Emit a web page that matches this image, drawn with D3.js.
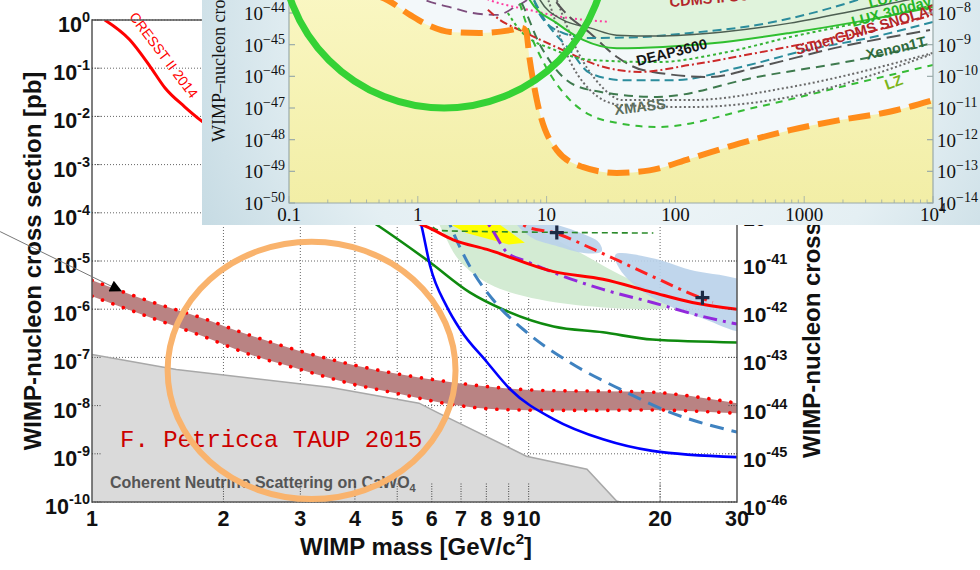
<!DOCTYPE html>
<html lang="en">
<head>
<meta charset="utf-8" />
<title>WIMP-nucleon cross section limits</title>
<script src="https://cdn.jsdelivr.net/npm/d3@7"></script>
<style>
  body { margin: 0; background: #fff; }
  svg { display: block; }
  .sans { font-family: "Liberation Sans", Arial, Helvetica, sans-serif; }
  .bold { font-family: "Liberation Sans", Arial, Helvetica, sans-serif; font-weight: bold; }
  .serif { font-family: "Liberation Serif", "Times New Roman", serif; }
  .mono { font-family: "Liberation Mono", "Courier New", monospace; }
</style>
</head>
<body>
<script>
// ---------------- main plot: mass [GeV/c^2], cross section as log10(sigma / pb)
const massTicks = [1, 2, 3, 4, 5, 6, 7, 8, 9, 10, 20, 30];
const pbExps = [0, -1, -2, -3, -4, -5, -6, -7, -8, -9, -10];
const cm2Exps = [-36, -37, -38, -39, -40, -41, -42, -43, -44, -45, -46];

const cresst = [[1.07, 0], [1.22, -0.41], [1.36, -0.97], [1.47, -1.41], [1.63, -1.80], [1.79, -2.11],
  [3.0, -3.3], [4.5, -3.95], [5.85, -4.29], [6.72, -4.56], [8.03, -4.76], [11.4, -5.22],
  [14.8, -5.38], [19.2, -5.65], [23.7, -5.86], [30, -6.0]];
const blueSolid = [[5.2, -3.0], [5.69, -4.29], [5.95, -5.11], [6.49, -5.94], [6.97, -6.42], [8.03, -7.10],
  [9.07, -7.66], [11.4, -8.28], [14.8, -8.70], [19.2, -8.94], [30, -9.07]];
const greenSolid = [[3.5, -3.6], [4.56, -4.29], [5.95, -5.03], [7.33, -5.65], [8.71, -6.00], [11.4, -6.36],
  [14.8, -6.48], [19.2, -6.63], [30, -6.69]];
const steelDashed = [[6.2, -3.6], [6.72, -4.41], [7.33, -5.11], [8.28, -5.80], [9.9, -6.48], [12.4, -7.10],
  [16.2, -7.66], [21.1, -8.14], [30, -8.55]];
const greenDashed = [[5.6, -4.0], [6.3, -4.37], [10, -4.40], [19.3, -4.42]];
const redDashDot = [[9.0, -4.0], [9.9, -4.29], [11.4, -4.41], [14.1, -4.76], [16.2, -5.01], [19.2, -5.32],
  [23.1, -5.65], [26.4, -5.86]];
const purpleDashDot = [[7.6, -3.9], [8.17, -4.29], [8.92, -4.82], [9.9, -5.01], [11.4, -5.24], [14.8, -5.59],
  [19.2, -5.86], [25, -6.15], [30, -6.31]];

const bandM = [1, 1.36, 1.77, 2.3, 3.0, 3.9, 5.07, 6.6, 8.6, 11.2, 14.6, 19, 24.7, 30];
const bandHi = [-5.40, -5.84, -6.17, -6.54, -6.87, -7.14, -7.35, -7.51, -7.63, -7.69, -7.70, -7.72, -7.83, -7.95];
const bandLo = [-5.73, -6.17, -6.54, -6.94, -7.25, -7.54, -7.76, -7.97, -8.08, -8.10, -8.10, -8.09, -8.12, -8.16];

const nuFloor = [[1, -6.94], [1.56, -7.25], [3.5, -7.62], [5.61, -7.95], [6.17, -8.14], [9.88, -9.05],
  [13.6, -9.32], [15.9, -9.98], [16.2, -10]];

const greenRegion = [[6.2, -4.0], [9.0, -4.1], [11.8, -4.6], [15.4, -5.18], [19, -5.6], [21.1, -5.86],
  [20.5, -5.98], [19, -6.0], [14.6, -5.96], [10.6, -5.80], [8.17, -5.49], [6.97, -5.01], [6.49, -4.55]];
const yellowRegion = [[6.2, -3.9], [7.6, -3.9], [9.8, -4.62], [9.0, -4.66], [7.2, -4.42], [6.5, -4.2]];
const blueRegionA = [[9.3, -4.15], [11.0, -4.2], [13.0, -4.4], [14.5, -4.62], [14.7, -4.80], [13.5, -4.84],
  [11.5, -4.68], [10.1, -4.5]];
const blueRegionB = [[15.8, -4.87], [19, -4.93], [23.4, -5.18], [32, -5.52], [32, -6.45], [24.7, -6.17],
  [20.6, -5.90], [18, -5.59], [16.2, -5.18]];
const bestFits = [[11.6, -4.41], [25.0, -5.76]];

const arrowFrom = [0.616, -4.39], arrowTo = [1.171, -5.63];
const ringMass = [1.49, 6.8], ringPb = [-4.6, -9.94];
const cresstLabelAt = [1.43, -0.79];

// ---------------- inset: mass [GeV/c^2], log10(sigma / cm^2)
const insetMassTicks = [0.1, 1, 10, 100, 1000, 10000];
const insetMassLabels = ['0.1', '1', '10', '100', '1000', '10^4'];
const insetCm2Exps = [-44, -45, -46, -47, -48, -49, -50];
const insetPbExps = [-8, -9, -10, -11, -12, -13, -14];

const nuFloorInset = [[0.1, -42.5], [0.36, -43.3], [0.58, -43.59], [0.87, -44.06], [1.24, -44.41], [1.78, -44.6],
  [3.0, -44.63], [5.2, -44.54], [6.4, -44.47], [6.9, -44.56], [7.4, -45.48], [8.4, -46.75], [12, -48.33],
  [19, -48.86], [35, -49.05], [63, -48.97], [130, -48.6], [316, -48.12], [776, -47.7], [1900, -47.38],
  [4600, -47.12], [10000, -46.75]];
const lux300 = [[6.5, -43.0], [7.4, -43.59], [12, -44.32], [19.2, -44.85], [35, -45.11], [80, -45.07], [234, -44.92],
  [776, -44.63], [2570, -44.28], [10000, -43.81]];
const lux2013 = [[8.0, -43.2], [8.9, -43.59], [13.4, -44.22], [21.7, -44.47], [35, -44.7], [72, -44.73], [234, -44.6],
  [776, -44.32], [2570, -43.91], [6280, -43.59], [10000, -43.4]];
const tealUpper = [[8, -43.6], [8.9, -44.06], [13.4, -44.63], [21.7, -44.79], [53, -44.76], [130, -44.63],
  [430, -44.38], [1400, -43.91], [2570, -43.59], [4000, -43.3]];
const greenDotted = [[5.0, -44.0], [6.2, -44.54], [11.6, -45.17], [21.7, -45.48], [72, -45.55], [234, -45.26],
  [776, -44.76], [2570, -44.32], [10000, -43.75]];
const superCdms = [[3.5, -43.9], [4.35, -44.22], [6.2, -44.54], [13.4, -45.17], [24.6, -45.64], [53, -45.86],
  [130, -45.64], [430, -45.26], [1400, -44.85], [4634, -44.44], [10000, -44.06]];
const tealLower = [[8, -43.6], [9.7, -44.22], [15.2, -45.17], [21.7, -45.9], [39, -46.12], [96, -46.12],
  [318, -45.71], [1050, -45.17], [3420, -44.76], [10000, -44.28]];
const deap3600 = [[10, -43.1], [11.6, -43.59], [13.4, -43.91], [21.7, -44.63], [35.2, -45.39], [56, -45.80],
  [186, -46.02], [430, -45.71], [1900, -45.07], [9480, -44.54]];
const xenon1t = [[5.5, -43.3], [6.2, -43.59], [8.9, -45.01], [13.4, -46.02], [21.7, -46.43], [72, -46.65],
  [430, -46.02], [2570, -45.48], [10000, -44.95]];
const xmassA = [[11, -43.2], [12, -43.59], [17.2, -45.17], [26, -46.27], [39, -46.75], [130, -46.75],
  [776, -46.34], [10000, -45.26]];
const xmassB = [[9.5, -43.2], [10.3, -43.59], [13.9, -45.17], [21.7, -46.43], [37, -46.9], [130, -46.97],
  [776, -46.65], [9480, -45.32]];
const lz = [[5.8, -43.3], [6.8, -44.22], [9.7, -45.64], [15.2, -46.75], [21.7, -47.22], [35.2, -47.47],
  [72, -47.6], [430, -46.97], [2570, -46.21], [10000, -45.64]];
const pinkDotted = [[2.5, -43.3], [3.6, -43.59], [7.43, -43.91], [13.4, -44.13], [31, -44.28]];
const purpleDashed = [[0.9, -43.4], [1.14, -43.59], [1.87, -43.84], [2.68, -44.0], [4.12, -44.06], [5.7, -43.81],
  [7.05, -43.59], [8, -43.4]];

const insetLabels = [
  { text: 'CDMS II Ge', at: [91, -43.81], rot: -5, color: '#b3262a' },
  { text: 'LUX 2013', at: [3240, -43.84], rot: -15, color: '#26b526' },
  { text: 'LUX 300day', at: [2390, -44.44], rot: -15, color: '#26b526' },
  { text: 'SuperCDMS SNOLAB', at: [879, -45.33], rot: -16.5, color: '#b3262a' },
  { text: 'DEAP3600', at: [51, -45.67], rot: -14, color: '#151515' },
  { text: 'Xenon1T', at: [3080, -45.48], rot: -13, color: '#2f6a3c' },
  { text: 'LZ', at: [4400, -46.43], rot: -20, color: '#7bb51a' },
  { text: 'XMASS', at: [34, -47.22], rot: -7, color: '#5d6e5d' }
];
const insetRingMass = [0.087, 29.4], insetRingCm2 = [-47.0, -36.7];

// ---------------- drawing
const p10 = v => Math.pow(10, v);
const svg = d3.select('body').append('svg').attr('width', 980).attr('height', 570);
const defs = svg.append('defs');

const x = d3.scaleLog().domain([1, 30]).range([92, 737]);
const y = d3.scaleLog().domain([1, 1e-10]).range([20, 502]);

defs.append('clipPath').attr('id', 'mainClip').append('rect')
  .attr('x', x(1)).attr('y', y(1)).attr('width', x(30) - x(1)).attr('height', y(1e-10) - y(1));

// grid
const grid = svg.append('g');
grid.selectAll('.hg').data(y.ticks()).join('line')
  .attr('x1', x(1)).attr('x2', x(30)).attr('y1', d => y(d)).attr('y2', d => y(d))
  .attr('stroke', '#555').attr('stroke-width', 0.9).attr('stroke-dasharray', '1,2');
grid.selectAll('.vg').data(massTicks.slice(1, -1)).join('line')
  .attr('x1', d => x(d)).attr('x2', d => x(d)).attr('y1', y(1)).attr('y2', y(1e-10))
  .attr('stroke', '#555').attr('stroke-width', 0.9).attr('stroke-dasharray', '1,2');

const plot = svg.append('g').attr('clip-path', 'url(#mainClip)');
const mline = d3.line().x(d => x(d[0])).y(d => y(p10(d[1]))).curve(d3.curveMonotoneX);
const mblob = d3.line().x(d => x(d[0])).y(d => y(p10(d[1]))).curve(d3.curveCatmullRomClosed.alpha(0.5));

// neutrino floor
plot.append('path')
  .attr('d', d3.area().x(d => x(d[0])).y0(y(1e-10)).y1(d => y(p10(d[1])))(nuFloor))
  .attr('fill', '#dadada');
plot.append('path').attr('d', d3.line().x(d => x(d[0])).y(d => y(p10(d[1])))(nuFloor))
  .attr('fill', 'none').attr('stroke', '#a8a8a8').attr('stroke-width', 1.5);

// regions
plot.append('path').attr('d', mblob(greenRegion)).attr('fill', '#d3ebd3');
plot.append('path').attr('d', mblob(blueRegionA)).attr('fill', '#b9d2ea').attr('opacity', 0.9);
plot.append('path').attr('d', mblob(blueRegionB)).attr('fill', '#b9d2ea').attr('opacity', 0.9);
plot.append('path').attr('d', d3.line().x(d => x(d[0])).y(d => y(p10(d[1]))).curve(d3.curveLinearClosed)(yellowRegion))
  .attr('fill', '#ffff00');

// band with dotted red edges
const bandPts = d3.zip(bandM, bandHi, bandLo);
plot.append('path')
  .attr('d', d3.area().x(d => x(d[0])).y0(d => y(p10(d[2]))).y1(d => y(p10(d[1]))).curve(d3.curveMonotoneX)(bandPts))
  .attr('fill', '#b98383');
[1, 2].forEach(k => {
  plot.append('path').attr('d', mline(bandPts.map(d => [d[0], d[k]])))
    .attr('fill', 'none').attr('stroke', '#ff0000').attr('stroke-width', 3.6)
    .attr('stroke-linecap', 'round').attr('stroke-dasharray', '0.1,11');
});

// limit curves
const mainCurves = [
  { pts: greenDashed, color: '#2a8a2a', w: 1.6, dash: '6,4' },
  { pts: greenSolid, color: '#0f8a0f', w: 2.6, dash: null },
  { pts: steelDashed, color: '#3f82c0', w: 3, dash: '14,8' },
  { pts: blueSolid, color: '#0000ff', w: 2.6, dash: null },
  { pts: purpleDashDot, color: '#9228dc', w: 3, dash: '14,6,3,6' },
  { pts: redDashDot, color: '#ff2020', w: 3, dash: '13,6,3,6' },
  { pts: cresst, color: '#ff0000', w: 3, dash: null }
];
mainCurves.forEach(c => {
  plot.append('path').attr('d', mline(c.pts)).attr('fill', 'none')
    .attr('stroke', c.color).attr('stroke-width', c.w).attr('stroke-dasharray', c.dash);
});
plot.selectAll('.fit').data(bestFits).join('path')
  .attr('d', 'M-7,0H7M0,-7V7')
  .attr('transform', d => `translate(${x(d[0])},${y(p10(d[1]))})`)
  .attr('stroke', '#1d2b45').attr('stroke-width', 3.2);

// texts in main plot
svg.append('text').attr('class', 'sans')
  .attr('transform', `translate(${x(cresstLabelAt[0])},${y(p10(cresstLabelAt[1]))}) rotate(53)`)
  .attr('text-anchor', 'middle').attr('font-size', 14).attr('fill', '#ff0000').text('CRESST II 2014');
const nuText = svg.append('text').attr('class', 'bold').attr('x', 110).attr('y', 488)
  .attr('font-size', 16).attr('fill', '#555');
nuText.append('tspan').text('Coherent Neutrino Scattering on CaWO');
nuText.append('tspan').attr('dy', 4).attr('font-size', 11).text('4');
svg.append('text').attr('class', 'mono').attr('x', 120).attr('y', 447)
  .attr('font-size', 24).attr('fill', '#cc0000').text('F. Petricca TAUP 2015');

// axes frame and ticks
svg.append('rect').attr('x', x(1)).attr('y', y(1)).attr('width', x(30) - x(1)).attr('height', y(1e-10) - y(1))
  .attr('fill', 'none').attr('stroke', '#555').attr('stroke-width', 1.5);
const ticks = svg.append('g').attr('stroke', '#444').attr('stroke-width', 1).attr('stroke-dasharray', '1,1.5');
pbExps.forEach(e => {
  ticks.append('line').attr('x1', x(1)).attr('x2', x(1) + 9).attr('y1', y(p10(e))).attr('y2', y(p10(e)));
  ticks.append('line').attr('x1', x(30)).attr('x2', x(30) - 9).attr('y1', y(p10(e))).attr('y2', y(p10(e)));
});
massTicks.slice(1, -1).forEach(m => {
  ticks.append('line').attr('x1', x(m)).attr('x2', x(m)).attr('y1', y(1e-10)).attr('y2', y(1e-10) - 20);
});

// tick labels
svg.append('g').selectAll('text').data(pbExps).join('text')
  .attr('class', 'bold').attr('x', 90).attr('y', d => y(p10(d)) + 12)
  .attr('text-anchor', 'end').attr('font-size', 21.5).attr('fill', '#111')
  .each(function (d) {
    const t = d3.select(this);
    t.append('tspan').text('10');
    t.append('tspan').attr('dy', -10).attr('font-size', 14.5).text(d);
  });
svg.append('g').selectAll('text').data(cm2Exps).join('text')
  .attr('class', 'bold').attr('x', 743).attr('y', d => y(p10(d + 36)) + 13)
  .attr('font-size', 21).attr('fill', '#111')
  .each(function (d) {
    const t = d3.select(this);
    t.append('tspan').text('10');
    t.append('tspan').attr('dy', -10).attr('font-size', 14.5).text(d);
  });
svg.append('g').selectAll('text').data(massTicks).join('text')
  .attr('class', 'bold').attr('x', d => x(d)).attr('y', 526)
  .attr('text-anchor', 'middle').attr('font-size', 21.5).attr('fill', '#111').text(d => d);

// axis titles
const xt = svg.append('text').attr('class', 'bold').attr('x', 416).attr('y', 555)
  .attr('text-anchor', 'middle').attr('font-size', 24).attr('fill', '#111');
xt.append('tspan').text('WIMP mass [GeV/c');
xt.append('tspan').attr('dy', -11).attr('font-size', 15).text('2');
xt.append('tspan').attr('dy', 11).text(']');
svg.append('text').attr('class', 'bold').attr('transform', 'translate(41,261) rotate(-90)')
  .attr('text-anchor', 'middle').attr('font-size', 24).attr('fill', '#111')
  .text('WIMP-nucleon cross section [pb]');
const yt2 = svg.append('text').attr('class', 'bold').attr('transform', 'translate(820,458) rotate(-90)')
  .attr('font-size', 24).attr('fill', '#111');
yt2.append('tspan').text('WIMP-nucleon cross section [cm');
yt2.append('tspan').attr('dy', -11).attr('font-size', 15).text('2');
yt2.append('tspan').attr('dy', 11).text(']');

// annotation ring and arrow
svg.append('ellipse')
  .attr('cx', (x(ringMass[0]) + x(ringMass[1])) / 2).attr('cy', (y(p10(ringPb[0])) + y(p10(ringPb[1]))) / 2)
  .attr('rx', (x(ringMass[1]) - x(ringMass[0])) / 2).attr('ry', (y(p10(ringPb[1])) - y(p10(ringPb[0]))) / 2)
  .attr('fill', 'none').attr('stroke', '#f9b36d').attr('stroke-width', 6);
defs.append('marker').attr('id', 'arrow').attr('viewBox', '0 0 10 10').attr('refX', 10).attr('refY', 5)
  .attr('markerWidth', 17).attr('markerHeight', 12).attr('markerUnits', 'userSpaceOnUse').attr('orient', 'auto')
  .append('path').attr('d', 'M0,0L10,5L0,10z').attr('fill', '#000');
svg.append('line')
  .attr('x1', x(arrowFrom[0])).attr('y1', y(p10(arrowFrom[1])))
  .attr('x2', x(arrowTo[0])).attr('y2', y(p10(arrowTo[1])))
  .attr('stroke', '#777').attr('stroke-width', 1).attr('marker-end', 'url(#arrow)');

// ================= inset
const inset = { x0: 202, y0: 0, x1: 980, y1: 225 };
const ix = d3.scaleLog().domain([0.1, 1e4]).range([289, 933]);
const iy = d3.scaleLog().domain([1e-50, 1e-44]).range([203, 13]);

const rg = defs.append('radialGradient').attr('id', 'insetBg').attr('gradientUnits', 'userSpaceOnUse')
  .attr('cx', 620).attr('cy', 20).attr('r', 560);
rg.append('stop').attr('offset', 0).attr('stop-color', '#f7fafc');
rg.append('stop').attr('offset', 0.55).attr('stop-color', '#e4eff3');
rg.append('stop').attr('offset', 1).attr('stop-color', '#b4cfda');
const yg = defs.append('linearGradient').attr('id', 'yellowBg').attr('x1', 0).attr('y1', 0).attr('x2', 0).attr('y2', 1);
yg.append('stop').attr('offset', 0).attr('stop-color', '#fbf8c6');
yg.append('stop').attr('offset', 1).attr('stop-color', '#f2eea6');

defs.append('clipPath').attr('id', 'insetClip').append('rect')
  .attr('x', inset.x0).attr('y', inset.y0).attr('width', inset.x1 - inset.x0).attr('height', inset.y1 - inset.y0);
defs.append('clipPath').attr('id', 'insetPlotClip').append('rect')
  .attr('x', ix(0.1)).attr('y', -60).attr('width', ix(1e4) - ix(0.1)).attr('height', iy(1e-50) + 60);

const ins = svg.append('g').attr('clip-path', 'url(#insetClip)');
ins.append('rect').attr('x', inset.x0).attr('y', inset.y0).attr('width', inset.x1 - inset.x0)
  .attr('height', inset.y1 - inset.y0).attr('fill', 'url(#insetBg)');

const ip = ins.append('g').attr('clip-path', 'url(#insetPlotClip)');
ip.append('rect').attr('x', ix(0.1)).attr('y', -60).attr('width', ix(1e4) - ix(0.1)).attr('height', iy(1e-50) + 60)
  .attr('fill', '#f3f8fa');
const iline = d3.line().x(d => ix(d[0])).y(d => iy(p10(d[1]))).curve(d3.curveMonotoneX);

// excluded region above LUX
ip.append('path')
  .attr('d', d3.area().x(d => ix(d[0])).y0(-60).y1(d => iy(p10(d[1]))).curve(d3.curveMonotoneX)(lux300))
  .attr('fill', '#e0f3dc');
// neutrino floor region
ip.append('path')
  .attr('d', d3.area().x(d => ix(d[0])).y0(iy(1e-50)).y1(d => iy(p10(d[1]))).curve(d3.curveMonotoneX)(nuFloorInset))
  .attr('fill', 'url(#yellowBg)');

const insetCurves = [
  { pts: purpleDashed, color: '#7d4d7d', w: 1.8, dash: '10,6' },
  { pts: pinkDotted, color: '#ff3ca0', w: 2, dash: '2,3' },
  { pts: lz, color: '#36bb36', w: 2, dash: '7,6' },
  { pts: xmassB, color: '#6a6a6a', w: 2, dash: '2,2.5' },
  { pts: xmassA, color: '#6a6a6a', w: 2, dash: '2,2.5' },
  { pts: xenon1t, color: '#3e7a4e', w: 2, dash: '9,6' },
  { pts: tealLower, color: '#2b8c9c', w: 2, dash: '9,5' },
  { pts: deap3600, color: '#555', w: 2, dash: '14,6' },
  { pts: superCdms, color: '#cc2a2a', w: 2, dash: '8,3,2,3' },
  { pts: greenDotted, color: '#36b336', w: 2, dash: '3,3' },
  { pts: tealUpper, color: '#2b8c9c', w: 2, dash: '9,5' },
  { pts: lux2013, color: '#4d5f52', w: 1.5, dash: null },
  { pts: lux300, color: '#2fbf2f', w: 2, dash: null }
];
insetCurves.forEach(c => {
  ip.append('path').attr('d', iline(c.pts)).attr('fill', 'none')
    .attr('stroke', c.color).attr('stroke-width', c.w).attr('stroke-dasharray', c.dash);
});
ip.append('path').attr('d', iline(nuFloorInset)).attr('fill', 'none')
  .attr('stroke', '#ff8c1a').attr('stroke-width', 6).attr('stroke-dasharray', '22,9');

ip.selectAll('.lab').data(insetLabels).join('text')
  .attr('class', 'bold').attr('font-size', 14.5).attr('fill', d => d.color)
  .attr('transform', d => `translate(${ix(d.at[0])},${iy(p10(d.at[1]))}) rotate(${d.rot})`)
  .text(d => d.text);

// inset axes
const ia = ins.append('g').attr('stroke', '#9aa').attr('stroke-width', 1.2).attr('fill', 'none');
ia.append('path').attr('d', `M${ix(0.1)},-5V${iy(1e-50)}H${ix(1e4)}V-5`);
insetCm2Exps.forEach(e => {
  ia.append('line').attr('x1', ix(0.1)).attr('x2', ix(0.1) + 6).attr('y1', iy(p10(e))).attr('y2', iy(p10(e)));
  ia.append('line').attr('x1', ix(1e4)).attr('x2', ix(1e4) - 6).attr('y1', iy(p10(e))).attr('y2', iy(p10(e)));
});
ix.ticks().forEach(m => {
  const major = Math.abs(Math.log10(m) - Math.round(Math.log10(m))) < 1e-6;
  ia.append('line').attr('x1', ix(m)).attr('x2', ix(m)).attr('y1', iy(1e-50)).attr('y2', iy(1e-50) - (major ? 7 : 3.5))
    .attr('stroke-width', 0.8);
});

ins.append('g').selectAll('text').data(insetCm2Exps).join('text')
  .attr('class', 'serif').attr('x', 285).attr('y', d => iy(p10(d)) + 7)
  .attr('text-anchor', 'end').attr('font-size', 19).attr('fill', '#111')
  .each(function (d) {
    const t = d3.select(this);
    t.append('tspan').text('10');
    t.append('tspan').attr('dy', -8).attr('font-size', 14).text('\u2212' + Math.abs(d));
  });
ins.append('g').selectAll('text').data(insetPbExps).join('text')
  .attr('class', 'serif').attr('x', 937).attr('y', d => iy(p10(d - 36)) + 7)
  .attr('font-size', 19).attr('fill', '#111')
  .each(function (d) {
    const t = d3.select(this);
    t.append('tspan').text('10');
    t.append('tspan').attr('dy', -8).attr('font-size', 14).text('\u2212' + Math.abs(d));
  });
ins.append('g').selectAll('text').data(insetMassTicks).join('text')
  .attr('class', 'serif').attr('x', d => ix(d)).attr('y', 221)
  .attr('text-anchor', 'middle').attr('font-size', 19).attr('fill', '#111')
  .each(function (d, i) {
    const t = d3.select(this), lab = insetMassLabels[i];
    if (lab.includes('^')) {
      const [b, e] = lab.split('^');
      t.append('tspan').text(b);
      t.append('tspan').attr('dy', -8).attr('font-size', 14).text(e);
    } else t.text(lab);
  });
const iyt = ins.append('text').attr('class', 'serif').attr('transform', 'translate(225,142) rotate(-90)')
  .attr('font-size', 18).attr('fill', '#111');
iyt.append('tspan').text('WIMP\u2013nucleon cross section [cm');
iyt.append('tspan').attr('dy', -7).attr('font-size', 12).text('2');
iyt.append('tspan').attr('dy', 7).text(']');

// inset annotation circle
ins.append('ellipse')
  .attr('cx', (ix(insetRingMass[0]) + ix(insetRingMass[1])) / 2)
  .attr('cy', (iy(p10(insetRingCm2[0])) + iy(p10(insetRingCm2[1]))) / 2)
  .attr('rx', (ix(insetRingMass[1]) - ix(insetRingMass[0])) / 2)
  .attr('ry', (iy(p10(insetRingCm2[0])) - iy(p10(insetRingCm2[1]))) / 2)
  .attr('fill', 'none').attr('stroke', '#35d235').attr('stroke-width', 7);
</script>
</body>
</html>
